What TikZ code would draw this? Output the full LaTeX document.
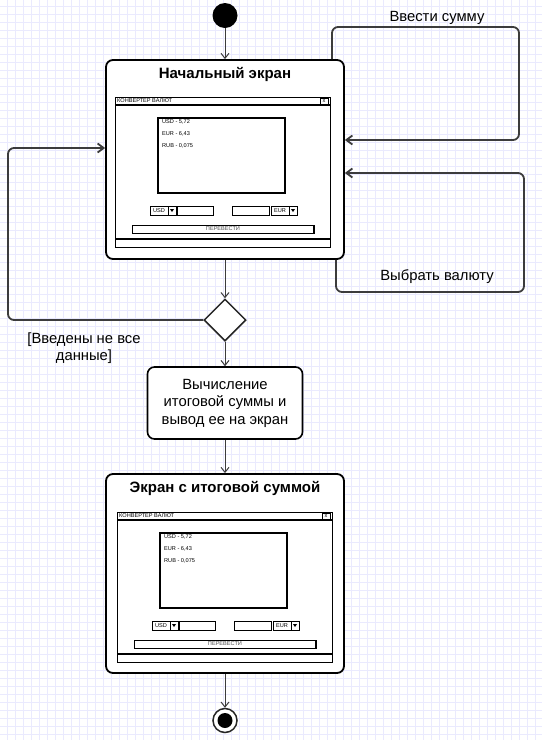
\documentclass[tikz,border=0pt]{standalone}
\usepackage{fontspec}
\setmainfont{Liberation Sans}
\usetikzlibrary{arrows.meta,shapes.geometric,positioning}

\definecolor{gridblue}{RGB}{234,234,254}
\definecolor{wire}{RGB}{60,60,60}

\tikzset{
  screen/.style={draw=black,line width=1.8pt,rounded corners=7pt,fill=white,
    minimum width=238pt,minimum height=199pt,inner sep=0pt},
  action/.style={draw=black,line width=1.6pt,rounded corners=7pt,fill=white,
    minimum width=155pt,minimum height=72pt,inner sep=0pt,align=center,
    font=\fontsize{14.8}{17.5}\selectfont},
  heading/.style={font=\fontsize{15}{18}\selectfont\bfseries,inner sep=0pt},
  note/.style={font=\fontsize{14.8}{16.5}\selectfont,inner sep=0pt,align=center},
  tinytext/.style={font=\fontsize{5.6}{6}\selectfont,inner sep=0pt},
  flow/.style={draw=wire,line width=1pt,-{Straight Barb[length=5pt,width=8pt]}},
  loopline/.style={draw=wire,line width=1.8pt,rounded corners=6pt,
    -{Straight Barb[length=6pt,width=9pt]}}
}

% small window of the currency converter
\newcommand{\convwin}[3]{%
  \begin{scope}[shift={(#1,#2)}]
    \draw[line width=1pt,fill=white] (0,0) rectangle (215,150);
    \draw[line width=1.6pt] (0,8) -- (215,8);
    \node[tinytext,anchor=west] (#3head) at (2,4) {КОНВЕРТЕР ВАЛЮТ};
    \draw[line width=.6pt] (205,1) rectangle (213,7);
    \node[tinytext] (#3close) at (209,4) {x};
    \draw[line width=1.4pt] (43,21) rectangle (170,96);
    \node[tinytext,anchor=west] (#3usd) at (47,25) {USD - 5,72};
    \node[tinytext,anchor=west] (#3eur) at (47,37) {EUR - 6,43};
    \node[tinytext,anchor=west] (#3rub) at (47,49) {RUB - 0,075};
    \draw[line width=.8pt] (35,109) rectangle (53,118) (53,109) rectangle (61,118)
      (62,109) rectangle (98,118);
    \node[tinytext] (#3from) at (44,113.5) {USD};
    \fill (55,112) -- (59,112) -- (57,115) -- cycle;
    \draw[line width=.8pt] (117,109) rectangle (154,118) (156,109) rectangle (174,118)
      (174,109) rectangle (182,118);
    \node[tinytext] (#3to) at (165,113.5) {EUR};
    \fill (176,112) -- (180,112) -- (178,115) -- cycle;
    \draw[line width=.8pt] (17,128) rectangle (199,136);
    \draw[line width=1.4pt] (199,128) -- (199,136);
    \node[tinytext,text=black!70] (#3go) at (108,132) {ПЕРЕВЕСТИ};
    \fill (0,140.5) rectangle (215,142.5);
  \end{scope}}

\begin{document}
\begin{tikzpicture}[x=1pt,y=-1pt]
  \useasboundingbox (0,0) rectangle (542,740);
  \fill[white] (0,0) rectangle (542,740);
  \draw[gridblue,line width=.6pt,shift={(7,6)}] (-7,-6) grid[step=8pt] (535,734);

  \node[circle,fill=black,minimum size=25pt,inner sep=0pt] (start) at (225,15.5) {};

  \node[screen] (box1) at (225,159.5) {};
  \node[heading] (title1) at (225,74) {Начальный экран};
  \convwin{115}{97}{w1}

  \node[diamond,draw=black!85,line width=1.5pt,fill=white,minimum width=42pt,
    minimum height=42pt,inner sep=0pt] (dec) at (225,320) {};

  \node[action] (calc) at (225,403) {Вычисление\\итоговой суммы и\\вывод ее на экран};

  \node[screen] (box3) at (225,573.5) {};
  \node[heading] (title3) at (225,488) {Экран с итоговой суммой};
  \convwin{117}{512}{w3}

  \node[circle,draw=black!85,line width=1.5pt,fill=white,minimum size=24pt,inner sep=0pt,
    path picture={\fill[black] (path picture bounding box.center) circle (7.5pt);}]
    (stop) at (225,720.5) {};

  \draw[flow] (start) -- (box1);
  \draw[flow] (box1) -- (dec);
  \draw[flow] (dec) -- (calc);
  \draw[flow] (calc) -- (box3);
  \draw[flow] (box3) -- (stop);

  \draw[loopline] (box1.north -| 332,0) |- (519,27) |- (box1.east |- 0,140);
  \draw[loopline] (box1.south -| 336,0) |- (524,292) |- (box1.east |- 0,173);
  \draw[loopline] (dec.west) -| (8,148) -- (box1.west |- 0,148);

  \node[note] (sumlbl) at (437,18) {Ввести сумму};
  \node[note] (curlbl) at (437,277) {Выбрать валюту};
  \node[note] (guard) at (84,348) {[Введены не все\\данные]};
\end{tikzpicture}
\end{document}
